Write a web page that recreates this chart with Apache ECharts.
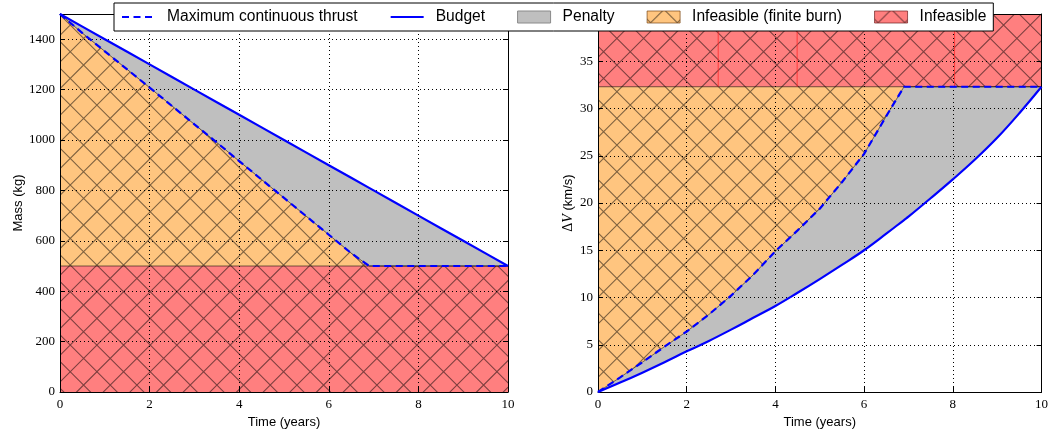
<!DOCTYPE html>
<html><head><meta charset="utf-8">
<script src="https://cdn.jsdelivr.net/npm/echarts@6/dist/echarts.min.js"></script>
<style>html,body{margin:0;padding:0;background:#fff}#c{width:1051px;height:434px}</style>
</head><body><div id="c"></div><script>
// ---- data ----
const time = [0,0.5,1,1.5,2,2.5,3,3.5,4,4.5,5,5.5,6,6.5,6.9,7,7.5,8,8.5,9,9.5,10];
const massBudget = [1500,1450,1400,1350,1300,1250,1200,1150,1100,1050,1000,950,900,850,810,800,750,700,650,600,550,500];
const massMaxThrust = [1500,1424,1352,1280,1208,1135,1062,990,916,843,770,697,624,551,500,500,500,500,500,500,500,500];
const massFloor = 500;
const dvBudget = [0,1.0,2.05,3.15,4.3,5.4,6.6,7.85,9.1,10.5,11.95,13.45,15.0,16.75,18.2,18.55,20.5,22.5,24.6,26.9,29.5,32.3];
const dvMaxThrust = [0,1.55,3.15,4.8,6.4,8.2,10.2,12.4,14.9,17.1,19.4,22.2,25.2,29.2,32.3,32.3,32.3,32.3,32.3,32.3,32.3,32.3];
const dvCeiling = 32.3;
const dvSeams = [2.71, 4.49, 8.04];   // faint red seams visible in the upper infeasible band
const timeTicks = {min:0, max:10, interval:2};
const massTicks = {min:0, max:1500, interval:200};
const dvTicks = {min:0, max:40, interval:5};

function pairs(arr){ return time.map((t,i)=>[t, arr[i]]); }
function hatch(bg){
  const P=80/3, a=18.5, b=15.3;
  const c=document.createElement('canvas'); c.width=80; c.height=80;
  const g=c.getContext('2d'); g.fillStyle=bg; g.fillRect(0,0,80,80);
  g.strokeStyle='rgba(0,0,0,0.5)'; g.lineWidth=1.1;
  g.beginPath();
  for(let k=-8;k<=8;k++){ const cc=a+k*P; g.moveTo(-20,-20-cc); g.lineTo(100,100-cc); }
  for(let m=-4;m<=10;m++){ const d=b+m*P; g.moveTo(-20,d+20); g.lineTo(100,d-100); }
  g.stroke();
  return {image:c, repeat:'repeat'};
}
const ORANGE = '#ffc57f', RED = '#ff7f7f', GRAY = '#bfbfbf', BLUE = '#0000ff';
const hO = hatch(ORANGE), hR = hatch(RED);
const edge = {width:1, color:'rgba(0,0,0,0.55)'};
const sans = 'Liberation Sans', serif = 'Liberation Serif';
const AXZ = 1;   // axes drawn on a layer above the fills

function xBottom(gi){
  return {type:'value', gridIndex:gi, position:'bottom', ...timeTicks, zlevel:AXZ,
    axisLine:{show:true, onZero:false, lineStyle:{color:'#000', width:1}},
    axisTick:{show:true, inside:true, length:5, lineStyle:{color:'#000'}},
    axisLabel:{fontFamily:serif, fontSize:13, color:'#000', margin:6, formatter:v=>String(v)},
    splitLine:{show:true, lineStyle:{type:[1,3], color:'#000', width:1}},
    name:'Time (years)', nameLocation:'middle', nameGap:24,
    nameTextStyle:{fontFamily:sans, fontSize:13, color:'#000'}};
}
function xTop(gi){
  return {type:'value', gridIndex:gi, position:'top', ...timeTicks, zlevel:AXZ,
    axisLine:{show:true, onZero:false, lineStyle:{color:'#000', width:1}},
    axisTick:{show:true, inside:true, length:5, lineStyle:{color:'#000'}},
    axisLabel:{show:false}, splitLine:{show:false}};
}
function yLeft(gi, ticks, name, gap, rich){
  return {type:'value', gridIndex:gi, position:'left', ...ticks, zlevel:AXZ,
    axisLine:{show:true, onZero:false, lineStyle:{color:'#000', width:1}},
    axisTick:{show:true, inside:true, length:5, lineStyle:{color:'#000'}},
    axisLabel:{fontFamily:serif, fontSize:13, color:'#000', margin:5, showMaxLabel:false, formatter:v=>String(v)},
    splitLine:{show:true, lineStyle:{type:[1,3], color:'#000', width:1}},
    name:name, nameLocation:'middle', nameGap:gap,
    nameTextStyle:{fontFamily:sans, fontSize:13, color:'#000', rich:rich||{}}};
}
function yRight(gi, ticks){
  return {type:'value', gridIndex:gi, position:'right', ...ticks, zlevel:AXZ,
    axisLine:{show:true, onZero:false, lineStyle:{color:'#000', width:1}},
    axisTick:{show:true, inside:true, length:5, lineStyle:{color:'#000'}},
    axisLabel:{show:false}, splitLine:{show:false}};
}
function area(name, xi, yi, data, fill, origin, line, smooth){
  return {name:name, type:'line', xAxisIndex:xi, yAxisIndex:yi, data:data, symbol:'none',
    silent:true, color: typeof fill==='string'?fill:'#888', smooth: smooth||false,
    lineStyle: line || {width:0}, areaStyle:{color:fill, opacity:1, origin:origin}};
}
function curve(name, xi, yi, data, dashed, smooth){
  return {name:name, type:'line', xAxisIndex:xi, yAxisIndex:yi, data:data, symbol:'none',
    silent:true, color:BLUE, zlevel:2, smooth: smooth||false,
    lineStyle:{color:BLUE, width:2.2, type: dashed?[7,4.5]:'solid'}};
}
function seam(x){
  return {name:'seam', type:'line', xAxisIndex:2, yAxisIndex:2, data:[[x, dvCeiling],[x, dvTicks.max]],
    symbol:'none', silent:true, lineStyle:{color:'rgba(255,40,40,0.8)', width:1}};
}
const noSym = {color:'rgba(0,0,0,0)', borderWidth:0};

const chart = echarts.init(document.getElementById('c'), null, {renderer:'canvas'});
chart.setOption({
  animation:false,
  backgroundColor:'#fff',
  grid:[{left:60, top:14, width:448, height:381}, {left:598, top:14, width:447, height:381}],
  xAxis:[xBottom(0), xTop(0), xBottom(1), xTop(1)],
  yAxis:[
    yLeft(0, massTicks, 'Mass (kg)', 33),
    yRight(0, massTicks),
    yLeft(1, dvTicks, '{d|Δ}{v|V} (km/s)', 23, {d:{fontFamily:serif, fontSize:14, color:'#000'}, v:{fontFamily:serif, fontStyle:'italic', fontSize:14, color:'#000'}}),
    yRight(1, dvTicks)
  ],
  legend:{left:114, top:3, orient:'horizontal', itemWidth:33, itemHeight:12, itemGap:32,
    padding:[6,7,6,7], borderColor:'#000', borderWidth:1, backgroundColor:'#fff', borderRadius:0,
    selectedMode:false, zlevel:3,
    textStyle:{fontFamily:sans, fontSize:15.6, color:'#000', padding:[0,0,0,7]},
    data:[
      {name:'Maximum continuous thrust', itemStyle:noSym},
      {name:'Budget', itemStyle:noSym},
      {name:'Penalty', icon:'rect', itemStyle:{color:GRAY, borderColor:'#8a8a8a', borderWidth:1}},
      {name:'Infeasible (finite burn)', icon:'rect', itemStyle:{color:hO, borderColor:'rgba(120,70,20,0.7)', borderWidth:1}},
      {name:'Infeasible', icon:'rect', itemStyle:{color:hR, borderColor:'rgba(110,30,30,0.7)', borderWidth:1}}
    ]},
  series:[
    // left panel: mass
    area('Penalty', 0, 0, pairs(massBudget), GRAY, 'start'),
    area('Infeasible (finite burn)', 0, 0, pairs(massMaxThrust), hO, 'start', edge),
    area('Infeasible', 0, 0, [[time[0], massFloor], [time[time.length-1], massFloor]], hR, 'start', edge),
    curve('Budget', 0, 0, pairs(massBudget), false),
    curve('Maximum continuous thrust', 0, 0, pairs(massMaxThrust), true),
    // right panel: delta-V
    area('Penalty', 2, 2, pairs(dvMaxThrust), GRAY, 'start'),
    area('mask', 2, 2, pairs(dvBudget), '#ffffff', 'start', null, 0.4),
    area('Infeasible (finite burn)', 2, 2, pairs(dvMaxThrust), hO, 'end', edge),
    area('Infeasible', 2, 2, [[time[0], dvCeiling], [time[time.length-1], dvCeiling]], hR, 'end', edge),
    ...dvSeams.map(seam),
    curve('Budget', 2, 2, pairs(dvBudget), false, 0.4),
    curve('Maximum continuous thrust', 2, 2, pairs(dvMaxThrust), true)
  ]
});
</script></body></html>
